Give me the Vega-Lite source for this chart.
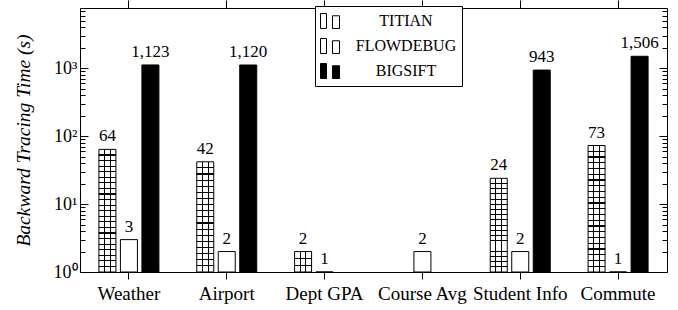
{
  "$schema": "https://vega.github.io/schema/vega-lite/v6.json",
  "width": 587,
  "height": 264,
  "autosize": {"type": "none"},
  "padding": {"left": 80, "top": 8, "right": 11, "bottom": 38},
  "background": "white",
  "config": {
    "view": {"stroke": "black", "strokeWidth": 1},
    "font": "Liberation Serif"
  },
  "data": {
    "values": [
      {"task": "Weather", "tool": "Titian", "time": 64},
      {"task": "Weather", "tool": "FlowDebug", "time": 3},
      {"task": "Weather", "tool": "BigSift", "time": 1123},
      {"task": "Airport", "tool": "Titian", "time": 42},
      {"task": "Airport", "tool": "FlowDebug", "time": 2},
      {"task": "Airport", "tool": "BigSift", "time": 1120},
      {"task": "Dept GPA", "tool": "Titian", "time": 2},
      {"task": "Dept GPA", "tool": "FlowDebug", "time": 1},
      {"task": "Course Avg", "tool": "FlowDebug", "time": 2},
      {"task": "Student Info", "tool": "Titian", "time": 24},
      {"task": "Student Info", "tool": "FlowDebug", "time": 2},
      {"task": "Student Info", "tool": "BigSift", "time": 943},
      {"task": "Commute", "tool": "Titian", "time": 73},
      {"task": "Commute", "tool": "FlowDebug", "time": 1},
      {"task": "Commute", "tool": "BigSift", "time": 1506}
    ]
  },
  "resolve": {"axis": {"x": "independent", "y": "independent"}},
  "layer": [
    {
      "mark": {"type": "bar", "stroke": "black", "strokeWidth": 1},
      "encoding": {
        "x": {"field": "task", "type": "nominal", "sort": ["Weather", "Airport", "Dept GPA", "Course Avg", "Student Info", "Commute"],
          "scale": {"domain": ["Weather", "Airport", "Dept GPA", "Course Avg", "Student Info", "Commute"], "paddingInner": 0, "paddingOuter": 0},
          "axis": {"orient": "bottom", "title": null, "labelAngle": 0, "labelFontSize": 19, "labelFont": "Liberation Serif", "labelColor": "black", "labelPadding": 5, "tickSize": 7, "tickColor": "black", "tickWidth": 1, "domain": false, "grid": false, "labelOverlap": false}},
        "xOffset": {"field": "tool", "type": "nominal", "scale": {"domain": ["Titian", "FlowDebug", "BigSift"], "paddingInner": 0.209, "paddingOuter": 0.88}},
        "y": {"field": "time", "type": "quantitative", "scale": {"type": "log", "domain": [1, 7745], "nice": false},
          "axis": {"orient": "left", "title": "Backward Tracing Time (s)", "values": [1, 10, 100, 1000],
            "labelExpr": "datum.value == 1 ? '10⁰' : datum.value == 10 ? '10¹' : datum.value == 100 ? '10²' : '10³'",
            "tickSize": -8, "tickColor": "black", "tickWidth": 1, "domain": false, "grid": false, "labelPadding": 11, "labelFontSize": 18, "labelFont": "Liberation Serif", "labelColor": "black",
            "titleFont": "Liberation Serif", "titleColor": "black", "titleFontSize": 19.5, "titleFontStyle": "italic", "titleFontWeight": "normal", "titlePadding": 20}},
        "y2": {"datum": 1},
        "fill": {"field": "tool", "type": "nominal", "scale": {"domain": ["Titian", "FlowDebug", "BigSift"], "range": ["white", "white", "black"]},
          "legend": {"orient": "none", "legendX": 235, "legendY": -2, "title": null, "direction": "vertical", "strokeColor": "black", "fillColor": "white", "padding": 5,
            "symbolType": "M-1,-0.79H-0.37V0.79H-1Z M0.26,-0.55H1V0.79H0.26Z", "symbolSize": 361, "symbolStrokeColor": "black", "symbolStrokeWidth": 1,
            "labelExpr": "upper(datum.label)", "labelFontSize": 16, "labelFont": "Liberation Serif", "labelColor": "black", "labelAlign": "center", "labelOffset": 66, "rowPadding": 5}}
      }
    },
    {
      "transform": [{"filter": "datum.tool == 'Titian'"}],
      "mark": {"type": "bar", "fill": {"gradient": "linear", "x1": 0, "y1": 0, "x2": 1, "y2": 0, "stops": [
        {"offset": 0, "color": "rgba(0,0,0,0)"}, {"offset": 0.303, "color": "rgba(0,0,0,0)"}, {"offset": 0.303, "color": "black"}, {"offset": 0.363, "color": "black"}, {"offset": 0.363, "color": "rgba(0,0,0,0)"},
        {"offset": 0.637, "color": "rgba(0,0,0,0)"}, {"offset": 0.637, "color": "black"}, {"offset": 0.697, "color": "black"}, {"offset": 0.697, "color": "rgba(0,0,0,0)"}, {"offset": 1, "color": "rgba(0,0,0,0)"}]}},
      "encoding": {
        "x": {"field": "task", "type": "nominal", "sort": ["Weather", "Airport", "Dept GPA", "Course Avg", "Student Info", "Commute"],
          "scale": {"domain": ["Weather", "Airport", "Dept GPA", "Course Avg", "Student Info", "Commute"], "paddingInner": 0, "paddingOuter": 0},
          "axis": {"orient": "top", "title": null, "labels": false, "tickSize": 8, "tickColor": "black", "tickWidth": 1, "domain": false, "grid": false}},
        "xOffset": {"field": "tool", "type": "nominal", "scale": {"domain": ["Titian", "FlowDebug", "BigSift"], "paddingInner": 0.209, "paddingOuter": 0.88}},
        "y": {"field": "time", "type": "quantitative", "scale": {"type": "log", "domain": [1, 7745], "nice": false},
          "axis": {"orient": "right", "title": null, "labels": false, "values": [1, 10, 100, 1000], "tickSize": -8, "tickColor": "black", "tickWidth": 1, "domain": false, "grid": false}},
        "y2": {"datum": 1}
      }
    },
    {
      "transform": [{"filter": "datum.tool == 'Titian'"}],
      "mark": {"type": "bar"},
      "encoding": {
        "x": {"field": "task", "type": "nominal", "sort": ["Weather", "Airport", "Dept GPA", "Course Avg", "Student Info", "Commute"],
          "scale": {"domain": ["Weather", "Airport", "Dept GPA", "Course Avg", "Student Info", "Commute"], "paddingInner": 0, "paddingOuter": 0}, "axis": null},
        "xOffset": {"field": "tool", "type": "nominal", "scale": {"domain": ["Titian", "FlowDebug", "BigSift"], "paddingInner": 0.209, "paddingOuter": 0.88}},
        "y": {"field": "time", "type": "quantitative", "scale": {"type": "log", "domain": [1, 7745], "nice": false},
          "axis": {"orient": "left", "title": null, "labels": false, "values": [2, 3, 4, 5, 6, 7, 8, 9, 20, 30, 40, 50, 60, 70, 80, 90, 200, 300, 400, 500, 600, 700, 800, 900, 2000, 3000, 4000, 5000, 6000, 7000], "tickSize": -5, "tickColor": "black", "tickWidth": 1, "domain": false, "grid": false}},
        "y2": {"datum": 1},
        "fill": {
          "condition": [
            {"test": "datum.time > 50", "value": {"gradient": "linear", "x1": 0, "y1": 0, "x2": 0, "y2": 1, "stops": [
              {"offset": 0, "color": "rgba(0,0,0,0)"},
              {"offset": 0.0410, "color": "rgba(0,0,0,0)"}, {"offset": 0.0410, "color": "black"}, {"offset": 0.0500, "color": "black"}, {"offset": 0.0500, "color": "rgba(0,0,0,0)"},
              {"offset": 0.0864, "color": "rgba(0,0,0,0)"}, {"offset": 0.0864, "color": "black"}, {"offset": 0.0954, "color": "black"}, {"offset": 0.0954, "color": "rgba(0,0,0,0)"},
              {"offset": 0.1319, "color": "rgba(0,0,0,0)"}, {"offset": 0.1319, "color": "black"}, {"offset": 0.1409, "color": "black"}, {"offset": 0.1409, "color": "rgba(0,0,0,0)"},
              {"offset": 0.1773, "color": "rgba(0,0,0,0)"}, {"offset": 0.1773, "color": "black"}, {"offset": 0.1863, "color": "black"}, {"offset": 0.1863, "color": "rgba(0,0,0,0)"},
              {"offset": 0.2228, "color": "rgba(0,0,0,0)"}, {"offset": 0.2228, "color": "black"}, {"offset": 0.2318, "color": "black"}, {"offset": 0.2318, "color": "rgba(0,0,0,0)"},
              {"offset": 0.2682, "color": "rgba(0,0,0,0)"}, {"offset": 0.2682, "color": "black"}, {"offset": 0.2772, "color": "black"}, {"offset": 0.2772, "color": "rgba(0,0,0,0)"},
              {"offset": 0.3137, "color": "rgba(0,0,0,0)"}, {"offset": 0.3137, "color": "black"}, {"offset": 0.3227, "color": "black"}, {"offset": 0.3227, "color": "rgba(0,0,0,0)"},
              {"offset": 0.3591, "color": "rgba(0,0,0,0)"}, {"offset": 0.3591, "color": "black"}, {"offset": 0.3681, "color": "black"}, {"offset": 0.3681, "color": "rgba(0,0,0,0)"},
              {"offset": 0.4046, "color": "rgba(0,0,0,0)"}, {"offset": 0.4046, "color": "black"}, {"offset": 0.4136, "color": "black"}, {"offset": 0.4136, "color": "rgba(0,0,0,0)"},
              {"offset": 0.4500, "color": "rgba(0,0,0,0)"}, {"offset": 0.4500, "color": "black"}, {"offset": 0.4590, "color": "black"}, {"offset": 0.4590, "color": "rgba(0,0,0,0)"},
              {"offset": 0.4955, "color": "rgba(0,0,0,0)"}, {"offset": 0.4955, "color": "black"}, {"offset": 0.5045, "color": "black"}, {"offset": 0.5045, "color": "rgba(0,0,0,0)"},
              {"offset": 0.5410, "color": "rgba(0,0,0,0)"}, {"offset": 0.5410, "color": "black"}, {"offset": 0.5500, "color": "black"}, {"offset": 0.5500, "color": "rgba(0,0,0,0)"},
              {"offset": 0.5864, "color": "rgba(0,0,0,0)"}, {"offset": 0.5864, "color": "black"}, {"offset": 0.5954, "color": "black"}, {"offset": 0.5954, "color": "rgba(0,0,0,0)"},
              {"offset": 0.6319, "color": "rgba(0,0,0,0)"}, {"offset": 0.6319, "color": "black"}, {"offset": 0.6409, "color": "black"}, {"offset": 0.6409, "color": "rgba(0,0,0,0)"},
              {"offset": 0.6773, "color": "rgba(0,0,0,0)"}, {"offset": 0.6773, "color": "black"}, {"offset": 0.6863, "color": "black"}, {"offset": 0.6863, "color": "rgba(0,0,0,0)"},
              {"offset": 0.7228, "color": "rgba(0,0,0,0)"}, {"offset": 0.7228, "color": "black"}, {"offset": 0.7318, "color": "black"}, {"offset": 0.7318, "color": "rgba(0,0,0,0)"},
              {"offset": 0.7682, "color": "rgba(0,0,0,0)"}, {"offset": 0.7682, "color": "black"}, {"offset": 0.7772, "color": "black"}, {"offset": 0.7772, "color": "rgba(0,0,0,0)"},
              {"offset": 0.8137, "color": "rgba(0,0,0,0)"}, {"offset": 0.8137, "color": "black"}, {"offset": 0.8227, "color": "black"}, {"offset": 0.8227, "color": "rgba(0,0,0,0)"},
              {"offset": 0.8591, "color": "rgba(0,0,0,0)"}, {"offset": 0.8591, "color": "black"}, {"offset": 0.8681, "color": "black"}, {"offset": 0.8681, "color": "rgba(0,0,0,0)"},
              {"offset": 0.9046, "color": "rgba(0,0,0,0)"}, {"offset": 0.9046, "color": "black"}, {"offset": 0.9136, "color": "black"}, {"offset": 0.9136, "color": "rgba(0,0,0,0)"},
              {"offset": 0.9500, "color": "rgba(0,0,0,0)"}, {"offset": 0.9500, "color": "black"}, {"offset": 0.9590, "color": "black"}, {"offset": 0.9590, "color": "rgba(0,0,0,0)"},
              {"offset": 1, "color": "rgba(0,0,0,0)"}]}},
            {"test": "datum.time > 10", "value": {"gradient": "linear", "x1": 0, "y1": 0, "x2": 0, "y2": 1, "stops": [
              {"offset": 0, "color": "rgba(0,0,0,0)"},
              {"offset": 0.0506, "color": "rgba(0,0,0,0)"}, {"offset": 0.0506, "color": "black"}, {"offset": 0.0606, "color": "black"}, {"offset": 0.0606, "color": "rgba(0,0,0,0)"},
              {"offset": 0.1061, "color": "rgba(0,0,0,0)"}, {"offset": 0.1061, "color": "black"}, {"offset": 0.1161, "color": "black"}, {"offset": 0.1161, "color": "rgba(0,0,0,0)"},
              {"offset": 0.1617, "color": "rgba(0,0,0,0)"}, {"offset": 0.1617, "color": "black"}, {"offset": 0.1717, "color": "black"}, {"offset": 0.1717, "color": "rgba(0,0,0,0)"},
              {"offset": 0.2172, "color": "rgba(0,0,0,0)"}, {"offset": 0.2172, "color": "black"}, {"offset": 0.2272, "color": "black"}, {"offset": 0.2272, "color": "rgba(0,0,0,0)"},
              {"offset": 0.2728, "color": "rgba(0,0,0,0)"}, {"offset": 0.2728, "color": "black"}, {"offset": 0.2828, "color": "black"}, {"offset": 0.2828, "color": "rgba(0,0,0,0)"},
              {"offset": 0.3283, "color": "rgba(0,0,0,0)"}, {"offset": 0.3283, "color": "black"}, {"offset": 0.3383, "color": "black"}, {"offset": 0.3383, "color": "rgba(0,0,0,0)"},
              {"offset": 0.3839, "color": "rgba(0,0,0,0)"}, {"offset": 0.3839, "color": "black"}, {"offset": 0.3939, "color": "black"}, {"offset": 0.3939, "color": "rgba(0,0,0,0)"},
              {"offset": 0.4394, "color": "rgba(0,0,0,0)"}, {"offset": 0.4394, "color": "black"}, {"offset": 0.4494, "color": "black"}, {"offset": 0.4494, "color": "rgba(0,0,0,0)"},
              {"offset": 0.4950, "color": "rgba(0,0,0,0)"}, {"offset": 0.4950, "color": "black"}, {"offset": 0.5050, "color": "black"}, {"offset": 0.5050, "color": "rgba(0,0,0,0)"},
              {"offset": 0.5506, "color": "rgba(0,0,0,0)"}, {"offset": 0.5506, "color": "black"}, {"offset": 0.5606, "color": "black"}, {"offset": 0.5606, "color": "rgba(0,0,0,0)"},
              {"offset": 0.6061, "color": "rgba(0,0,0,0)"}, {"offset": 0.6061, "color": "black"}, {"offset": 0.6161, "color": "black"}, {"offset": 0.6161, "color": "rgba(0,0,0,0)"},
              {"offset": 0.6617, "color": "rgba(0,0,0,0)"}, {"offset": 0.6617, "color": "black"}, {"offset": 0.6717, "color": "black"}, {"offset": 0.6717, "color": "rgba(0,0,0,0)"},
              {"offset": 0.7172, "color": "rgba(0,0,0,0)"}, {"offset": 0.7172, "color": "black"}, {"offset": 0.7272, "color": "black"}, {"offset": 0.7272, "color": "rgba(0,0,0,0)"},
              {"offset": 0.7728, "color": "rgba(0,0,0,0)"}, {"offset": 0.7728, "color": "black"}, {"offset": 0.7828, "color": "black"}, {"offset": 0.7828, "color": "rgba(0,0,0,0)"},
              {"offset": 0.8283, "color": "rgba(0,0,0,0)"}, {"offset": 0.8283, "color": "black"}, {"offset": 0.8383, "color": "black"}, {"offset": 0.8383, "color": "rgba(0,0,0,0)"},
              {"offset": 0.8839, "color": "rgba(0,0,0,0)"}, {"offset": 0.8839, "color": "black"}, {"offset": 0.8939, "color": "black"}, {"offset": 0.8939, "color": "rgba(0,0,0,0)"},
              {"offset": 0.9394, "color": "rgba(0,0,0,0)"}, {"offset": 0.9394, "color": "black"}, {"offset": 0.9494, "color": "black"}, {"offset": 0.9494, "color": "rgba(0,0,0,0)"},
              {"offset": 1, "color": "rgba(0,0,0,0)"}]}}
          ],
          "value": {"gradient": "linear", "x1": 0, "y1": 0, "x2": 0, "y2": 1, "stops": [
            {"offset": 0, "color": "rgba(0,0,0,0)"},
            {"offset": 0.3083, "color": "rgba(0,0,0,0)"}, {"offset": 0.3083, "color": "black"}, {"offset": 0.3583, "color": "black"}, {"offset": 0.3583, "color": "rgba(0,0,0,0)"},
            {"offset": 0.6417, "color": "rgba(0,0,0,0)"}, {"offset": 0.6417, "color": "black"}, {"offset": 0.6917, "color": "black"}, {"offset": 0.6917, "color": "rgba(0,0,0,0)"},
            {"offset": 1, "color": "rgba(0,0,0,0)"}]}
        }
      }
    },
    {
      "mark": {"type": "text", "baseline": "alphabetic", "dy": -8, "fontSize": 17, "font": "Liberation Serif", "color": "black"},
      "encoding": {
        "x": {"field": "task", "type": "nominal", "sort": ["Weather", "Airport", "Dept GPA", "Course Avg", "Student Info", "Commute"],
          "scale": {"domain": ["Weather", "Airport", "Dept GPA", "Course Avg", "Student Info", "Commute"], "paddingInner": 0, "paddingOuter": 0}, "axis": null},
        "xOffset": {"field": "tool", "type": "nominal", "scale": {"domain": ["Titian", "FlowDebug", "BigSift"], "paddingInner": 0.209, "paddingOuter": 0.88}},
        "y": {"field": "time", "type": "quantitative", "scale": {"type": "log", "domain": [1, 7745], "nice": false},
          "axis": {"orient": "right", "title": null, "labels": false, "values": [2, 3, 4, 5, 6, 7, 8, 9, 20, 30, 40, 50, 60, 70, 80, 90, 200, 300, 400, 500, 600, 700, 800, 900, 2000, 3000, 4000, 5000, 6000, 7000], "tickSize": -5, "tickColor": "black", "tickWidth": 1, "domain": false, "grid": false}},
        "text": {"field": "time", "type": "quantitative", "format": ","}
      }
    }
  ]
}
